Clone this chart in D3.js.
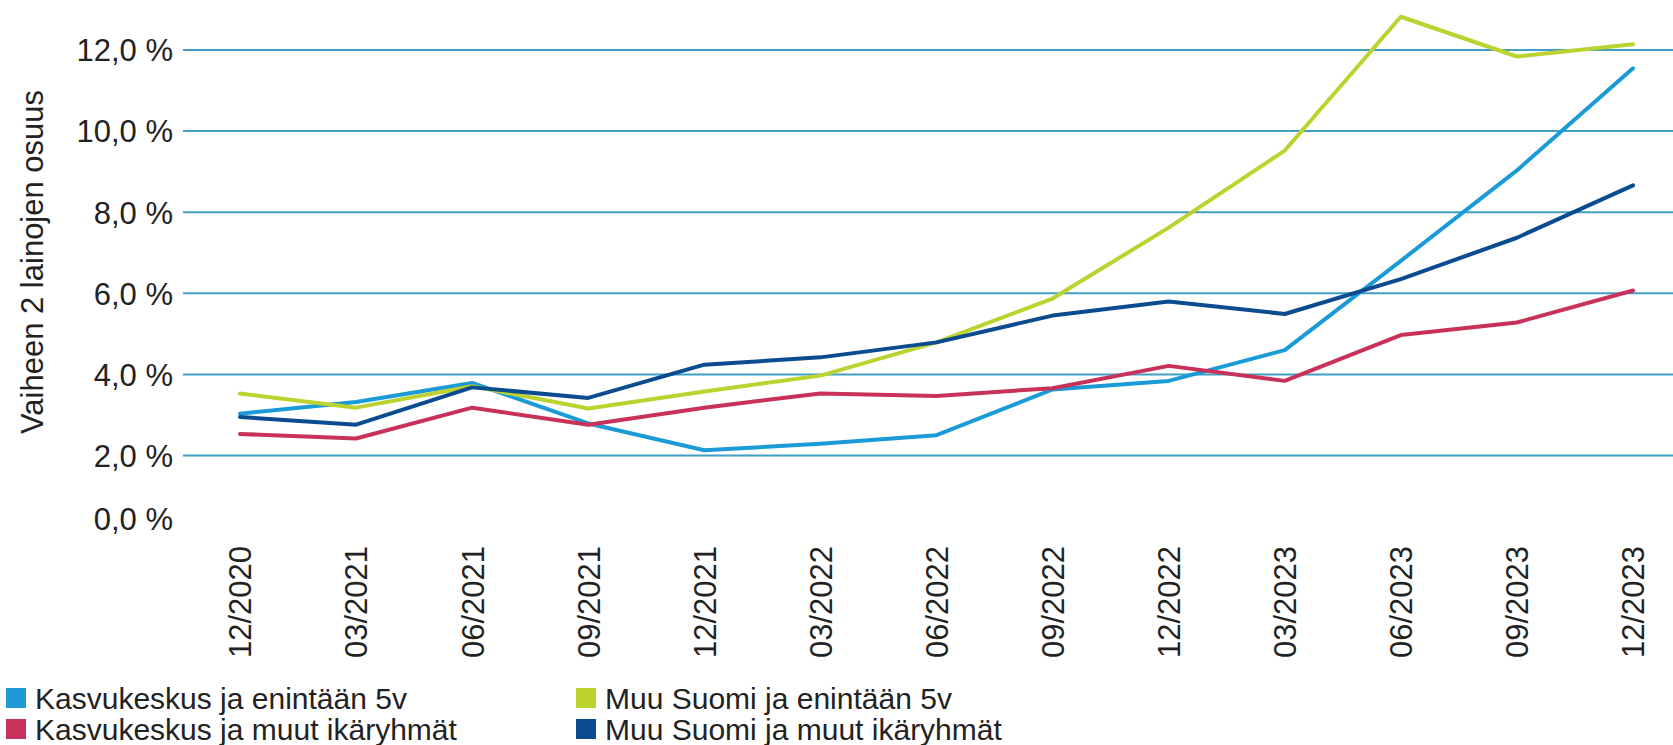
<!DOCTYPE html>
<html>
<head>
<meta charset="utf-8">
<script src="https://cdn.jsdelivr.net/npm/d3@7"></script>
<style>
  body { margin: 0; background: #fff; }
  text { font-family: "Liberation Sans", Arial, sans-serif; fill: #222; }
</style>
</head>
<body>
<div id="chart"></div>
<script>
const periods = ['12/2020','03/2021','06/2021','09/2021','12/2021','03/2022','06/2022','09/2022','12/2022','03/2023','06/2023','09/2023','12/2023'];
const yTicks = [0, 2, 4, 6, 8, 10, 12];

const kasvuNuoret = [3.03, 3.32, 3.79, 2.79, 2.13, 2.29, 2.50, 3.63, 3.84, 4.60, 6.80, 9.03, 11.55];
const kasvuMuut   = [2.53, 2.42, 3.18, 2.76, 3.18, 3.53, 3.47, 3.66, 4.21, 3.84, 4.97, 5.28, 6.07];
const muuNuoret   = [3.53, 3.18, 3.71, 3.16, 3.58, 3.97, 4.79, 5.87, 7.62, 9.52, 12.82, 11.84, 12.14];
const muuMuut     = [2.95, 2.76, 3.68, 3.42, 4.24, 4.42, 4.79, 5.45, 5.80, 5.49, 6.35, 7.37, 8.66];

const seriesNames = ['Kasvukeskus ja enintään 5v', 'Kasvukeskus ja muut ikäryhmät', 'Muu Suomi ja enintään 5v', 'Muu Suomi ja muut ikäryhmät'];
const seriesValues = [kasvuNuoret, kasvuMuut, muuNuoret, muuMuut];
const colors = ['#1b9ad8', '#c8325a', '#bcd22e', '#0b4b8f'];

const W = 1673, H = 745;
const svg = d3.select('#chart').append('svg')
    .attr('width', W).attr('height', H);

// plot area
const gridLeft = 183, gridRight = W;
const x = d3.scalePoint()
    .domain(periods)
    .range([240, 1633]);
const y = d3.scaleLinear()
    .domain([0, 12])
    .range([536.6, 50]);

// gridlines (no line at 0)
svg.append('g')
    .selectAll('line')
    .data(yTicks.filter(d => d > 0))
    .join('line')
    .attr('x1', gridLeft).attr('x2', gridRight)
    .attr('y1', d => y(d)).attr('y2', d => y(d))
    .attr('stroke', '#3f9fc4')
    .attr('stroke-width', 2);

// y axis labels
const yAxis = svg.append('g')
    .attr('transform', `translate(173,0)`)
    .call(d3.axisLeft(y).tickValues(yTicks).tickSize(0).tickPadding(0)
        .tickFormat(d => d3.format('.1f')(d).replace('.', ',') + ' %'));
yAxis.select('.domain').remove();
yAxis.selectAll('text')
    .style('font-size', '31px')
    .attr('fill', '#222')
    .attr('dy', '0.35em');
// the 0,0 label sits a bit above the baseline in the original
yAxis.selectAll('.tick').filter(d => d === 0)
    .select('text').attr('y', -18);

// y axis title
svg.append('text')
    .attr('transform', `translate(32,262) rotate(-90)`)
    .attr('text-anchor', 'middle')
    .attr('dominant-baseline', 'central')
    .style('font-size', '31px')
    .text('Vaiheen 2 lainojen osuus');

// x axis labels
const xAxis = svg.append('g')
    .attr('transform', `translate(0,546)`)
    .call(d3.axisBottom(x).tickSize(0).tickPadding(0));
xAxis.select('.domain').remove();
xAxis.selectAll('text')
    .style('font-size', '31px')
    .attr('fill', '#222')
    .attr('transform', 'rotate(-90)')
    .attr('text-anchor', 'end')
    .attr('x', 0)
    .attr('y', 0)
    .attr('dy', '0.35em');

// lines
const line = d3.line()
    .x((d, i) => x(periods[i]))
    .y(d => y(d));

svg.append('g')
    .selectAll('path')
    .data(seriesValues)
    .join('path')
    .attr('d', d => line(d))
    .attr('fill', 'none')
    .attr('stroke', (d, i) => colors[i])
    .attr('stroke-width', 4)
    .attr('stroke-linejoin', 'round')
    .attr('stroke-linecap', 'round');

// legend
const legendPos = [[6, 688], [6, 719], [576, 688], [576, 719]];
const legend = svg.append('g')
    .selectAll('g')
    .data(seriesNames)
    .join('g')
    .attr('transform', (d, i) => `translate(${legendPos[i][0]},${legendPos[i][1]})`);
legend.append('rect')
    .attr('width', 20).attr('height', 20)
    .attr('fill', (d, i) => colors[i]);
legend.append('text')
    .attr('x', 29).attr('y', 10)
    .attr('dy', '0.35em')
    .style('font-size', '30px')
    .text(d => d);
</script>
</body>
</html>
